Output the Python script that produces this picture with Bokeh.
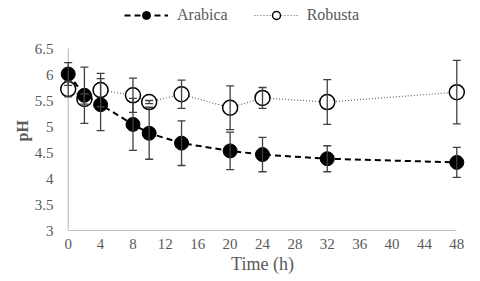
from bokeh.plotting import figure
from bokeh.models import (ColumnDataSource, Whisker, TeeHead, Range1d, FixedTicker,
                          Legend, LegendItem, CustomJSTickFormatter, Title)
from bokeh.embed import file_html
from bokeh.resources import INLINE

time_h = [0, 2, 4, 8, 10, 14, 20, 24, 32, 48]
arabica = [6.01, 5.60, 5.42, 5.04, 4.87, 4.68, 4.53, 4.46, 4.38, 4.31]
arabica_err = [0.22, 0.54, 0.50, 0.50, 0.50, 0.43, 0.36, 0.33, 0.25, 0.29]
robusta = [5.72, 5.53, 5.70, 5.60, 5.47, 5.62, 5.36, 5.55, 5.47, 5.66]
robusta_err = [0.15, 0.10, 0.32, 0.33, 0.03, 0.27, 0.42, 0.20, 0.43, 0.61]
x_ticks = [0, 4, 8, 12, 16, 20, 24, 28, 32, 36, 40, 44, 48]
y_ticks = [3, 3.5, 4, 4.5, 5, 5.5, 6, 6.5]

FONT = "Liberation Serif"
GRAY = "#595959"

src_a = ColumnDataSource(dict(t=time_h, y=arabica,
                              lo=[v - e for v, e in zip(arabica, arabica_err)],
                              hi=[v + e for v, e in zip(arabica, arabica_err)]))
src_r = ColumnDataSource(dict(t=time_h, y=robusta,
                              lo=[v - e for v, e in zip(robusta, robusta_err)],
                              hi=[v + e for v, e in zip(robusta, robusta_err)]))

# frame spans the full height so that the legend above the data area is not clipped
PX_PER_UNIT = 52.0
TOP_SPACE = 48
p = figure(width=480, height=281, output_backend="svg", toolbar_location=None,
           x_range=Range1d(-1.2, 49.2),
           y_range=Range1d(y_ticks[0], y_ticks[-1] + TOP_SPACE / PX_PER_UNIT),
           min_border_left=58, min_border_right=14, min_border_top=0, min_border_bottom=51)
p.outline_line_color = None
p.xgrid.visible = False
p.ygrid.visible = False
p.background_fill_color = "white"

# axes
p.xaxis.ticker = FixedTicker(ticks=x_ticks)
p.xaxis.bounds = (x_ticks[0], x_ticks[-1])
p.yaxis.ticker = FixedTicker(ticks=y_ticks)
p.yaxis.formatter = CustomJSTickFormatter(code="return tick.toString();")
for ax in (p.xaxis[0], p.yaxis[0]):
    ax.major_tick_line_color = None
    ax.minor_tick_line_color = None
    ax.major_tick_out = 0
    ax.major_tick_in = 0
    ax.major_label_text_font = FONT
    ax.major_label_text_font_size = "15px"
    ax.major_label_text_color = GRAY
    ax.axis_label_text_font = FONT
    ax.axis_label_text_color = GRAY
    ax.axis_label_text_font_style = "normal"
p.xaxis.axis_line_color = "#c0c0c0"
p.xaxis.axis_line_width = 1.2
p.yaxis.axis_line_color = None
p.xaxis.axis_label = "Time (h)"
p.xaxis.axis_label_text_font_size = "18px"
p.xaxis.major_label_standoff = 8
p.xaxis.axis_label_standoff = 2
p.yaxis.major_label_standoff = 5

ylab = Title(text="pH", align="left", offset=89, vertical_align="middle",
             text_font=FONT, text_font_size="16px", text_font_style="bold",
             text_color=GRAY, standoff=0)
p.add_layout(ylab, "left")

# vertical axis line from y_ticks[0] to y_ticks[-1] at x = 0
p.segment(x0=[x_ticks[0]], y0=[y_ticks[0]], x1=[x_ticks[0]], y1=[y_ticks[-1]],
          line_color="#c0c0c0", line_width=1.2)

# series
a_line = p.line("t", "y", source=src_a, line_color="black", line_width=2, line_dash="6 4")
r_line = p.line("t", "y", source=src_r, line_color="#666666", line_width=1.2, line_dash="1 2")
r_sc = p.scatter("t", "y", source=src_r, size=15, fill_color="white",
                 line_color="black", line_width=1.5)
a_sc = p.scatter("t", "y", source=src_a, size=14, fill_color="black", line_color="black")

for src in (src_r, src_a):
    w = Whisker(source=src, base="t", upper="hi", lower="lo", dimension="height",
                line_color="#404040", line_width=1.3, level="overlay",
                upper_head=TeeHead(size=8, line_color="#404040", line_width=1.3),
                lower_head=TeeHead(size=8, line_color="#404040", line_width=1.3))
    p.add_layout(w)

legend = Legend(items=[LegendItem(label="Arabica", renderers=[a_line, a_sc]),
                       LegendItem(label="Robusta", renderers=[r_line, r_sc])],
                location=(66, 205), orientation="horizontal",
                glyph_width=44, glyph_height=20, label_standoff=9, spacing=26,
                padding=0, margin=0, border_line_color=None, background_fill_alpha=0,
                label_text_font=FONT, label_text_font_size="16px",
                label_text_color=GRAY)
p.add_layout(legend)

open("out.html", "w").write(file_html(p, INLINE))
